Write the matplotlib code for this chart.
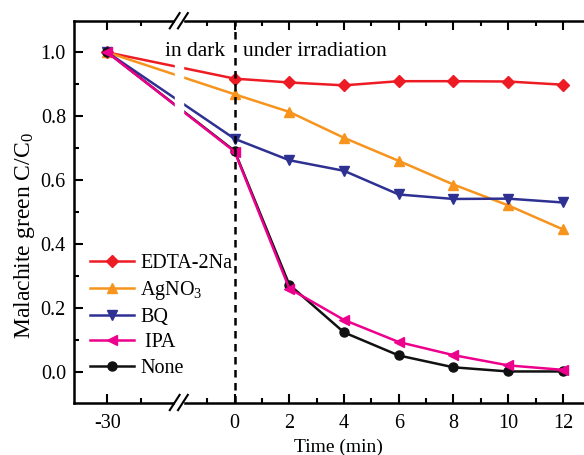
import numpy as np
import matplotlib
matplotlib.use('Agg')
import matplotlib.pyplot as plt
from matplotlib.transforms import blended_transform_factory

plt.rcParams['font.family'] = ['Liberation Serif', 'DejaVu Serif']
plt.rcParams['mathtext.fontset'] = 'custom'
plt.rcParams['mathtext.rm'] = 'Liberation Serif'
plt.rcParams['mathtext.it'] = 'Liberation Serif:italic'

# data
times = [-30, 0, 2, 4, 6, 8, 10, 12]
edta = [1.0, 0.918, 0.906, 0.897, 0.910, 0.910, 0.909, 0.899]
agno3 = [1.0, 0.869, 0.814, 0.733, 0.661, 0.587, 0.522, 0.447]
bq = [1.0, 0.730, 0.663, 0.630, 0.556, 0.542, 0.543, 0.531]
ipa = [1.0, 0.690, 0.262, 0.164, 0.095, 0.054, 0.022, 0.008]
none = [1.0, 0.692, 0.274, 0.125, 0.053, 0.016, 0.003, 0.003]
labels = ['EDTA-2Na', 'AgNO$_3$', 'BQ', ' IPA', 'None']
tick_labels = ['-30', '0', '2', '4', '6', '8', '10', '12']

# broken axis: -30 min is drawn at this position
dark_pos = -4.65
brk = -2.04


def to_axis(t):
    return [dark_pos if v < 0 else v for v in t]


fig = plt.figure(figsize=(5.84, 4.55), dpi=100)
W, H = 584, 455
ax = fig.add_axes([74.3 / W, 1 - 402.5 / H, (602 - 74.3) / W, (402.5 - 20.7) / H])

series = [(edta, '#ed1c24', 'D', 6), (agno3, '#f7941d', '^', 7.5),
          (bq, '#2e3192', 'v', 7.5), (ipa, '#ec008c', '<', 7.5),
          (none, '#111111', 'o', 6.5)]
zs = [3, 3, 3, 3.2, 3.1]
x = to_axis(times)
for (vals, c, m, ms), lab, z in zip(series, labels, zs):
    ax.plot(x, vals, color=c, marker=m, ms=ms, lw=1.8, label=lab, zorder=z)

ax.set_xlim(-5.86, 13.43)
ax.set_ylim(-0.094, 1.099)

ax.axvline(0, color='black', ls=(0, (3, 2.2)), lw=1.8, zorder=4)

# break gap and slashes
trans = blended_transform_factory(ax.transData, ax.transAxes)
ax.add_patch(plt.Rectangle((brk - 0.15, -0.03), 0.3, 1.06, transform=trans,
                           color='white', clip_on=False, zorder=5))
for yb in (0.0, 1.0):
    for xc in (brk - 0.15, brk + 0.15):
        ax.plot([xc - 0.18, xc + 0.18], [yb - 0.02, yb + 0.02], color='black',
                lw=1.5, transform=trans, clip_on=False, zorder=6)

ax.set_xticks(to_axis(times))
ax.set_xticklabels(tick_labels)
ax.set_xticks([-3.44, -1, 1, 3, 5, 7, 9, 11, 13], minor=True)
ax.set_yticks([0.0, 0.2, 0.4, 0.6, 0.8, 1.0])
ax.set_yticklabels(['0.0', '0.2', '0.4', '0.6', '0.8', '1.0'])
ax.set_yticks(np.arange(0.1, 1.1, 0.2), minor=True)
ax.tick_params(which='both', direction='in', top=True, labelsize=14.5, width=1.5)
ax.tick_params(which='major', length=6.5)
ax.tick_params(axis='x', which='major', pad=8)
ax.tick_params(axis='y', which='major', pad=6)
ax.tick_params(which='minor', length=3.5)
for s in ax.spines.values():
    s.set_linewidth(1.8)

ax.set_xlabel('Time (min)', fontsize=14)
ax.xaxis.set_label_coords(0.5, -0.095)
ax.set_ylabel('Malachite green C/C$_0$', fontsize=17)
ax.yaxis.set_label_coords(-0.07, 0.436)

ax.text(-0.35, 0.99, 'in dark', fontsize=15.5, ha='right', va='baseline', zorder=7)
ax.text(0.31, 0.99, 'under irradiation', fontsize=15.5, ha='left', va='baseline',
        zorder=7)

ax.legend(loc='upper left', bbox_to_anchor=(90 / W, 1 - 254 / H),
          bbox_transform=fig.transFigure, frameon=False, fontsize=14.5,
          handlelength=2.2, handletextpad=0.3, labelspacing=0.3,
          borderpad=0, borderaxespad=0)

fig.savefig('out.png', dpi=100)
